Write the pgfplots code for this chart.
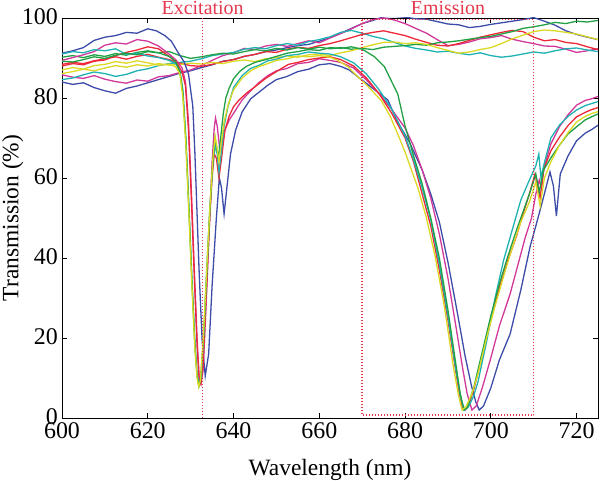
\documentclass[border=0pt]{standalone}
\usepackage{fontspec}
\setmainfont{Liberation Serif}
\usepackage{pgfplots}
\pgfplotsset{compat=1.18}
\definecolor{cB}{rgb}{0.24,0.30,0.66}
\definecolor{cM}{rgb}{0.82,0.22,0.60}
\definecolor{cC}{rgb}{0.12,0.70,0.70}
\definecolor{cR}{rgb}{0.93,0.16,0.22}
\definecolor{cG}{rgb}{0.13,0.63,0.27}
\definecolor{cY}{rgb}{0.86,0.85,0.14}
\definecolor{cDot}{rgb}{0.90,0.22,0.30}
\begin{document}
\begin{tikzpicture}
\begin{axis}[
  scale only axis, width=536bp, height=400bp,
  xmin=600, xmax=725, ymin=0, ymax=100,
  xtick={600,620,...,720}, ytick={0,20,...,100},
  tick align=inside, xtick pos=both, ytick pos=both,
  major tick length=5bp,
  axis line style={line width=0.9bp},
  every tick/.style={line width=0.9bp, black},
  /pgf/number format/assume math mode=true,
  tick label style={font=\fontsize{24}{26}\selectfont},
  xticklabel style={inner sep=1bp, yshift=-3bp},
  yticklabel style={inner sep=1bp, xshift=-3bp, yshift=1bp},
  label style={font=\fontsize{23.5}{26}\selectfont},
  xlabel={Wavelength (nm)}, ylabel={Transmission (\%)},
  xlabel style={at={(axis description cs:0.5,-0.1425)}, anchor=base},
  ylabel style={at={(axis description cs:-0.092,0.5)}, anchor=center, rotate=0},
  clip mode=individual,
  every axis plot/.append style={line width=1.3bp, no marks},
]
% ---- flat curves ----
\addplot[cB] coordinates {(600,84.0)(602.5,83.4)(605,83.8)(607.5,82.6)(610,81.8)(612.5,81.2)(615,82.4)(617.5,83.0)(620,83.8)(622.5,84.6)(625,85.4)(627.5,86.2)(630,86.8)(632.5,87.6)(635,88.3)(637.5,89.2)(640,89.6)(642.5,90.4)(645,90.9)(647.5,91.6)(650,92.0)(652.5,92.6)(655,93.1)(657.5,93.4)(660,94.2)(662.5,95.1)(665,96.2)(667.5,97.4)(670,98.6)(672.5,99.4)(675,100.3)(677.5,100.4)(680,100.2)(682.5,99.8)(685,99.7)(687.5,99.1)(690,98.5)(692.5,98.3)(695,97.6)(697.5,97.9)(700,98.4)(702.5,98.8)(705,99.2)(707.5,99.6)(710,100.1)(712.5,99.2)(715,98.2)(717.5,96.8)(720,95.9)(722.5,95.2)(725,94.6)};
\addplot[cM] coordinates {(600,85.8)(602.5,85.2)(605,84.9)(607.5,85.6)(610,84.7)(612.5,84.1)(615,83.7)(617.5,84.5)(620,84.2)(622.5,85.3)(625,85.6)(627.5,86.4)(630,87.0)(632.5,88.1)(635,89.4)(637.5,90.6)(640,91.3)(642.5,92.4)(645,92.1)(647.5,93.0)(650,93.4)(652.5,92.9)(655,93.6)(657.5,94.3)(660,93.8)(662.5,95.0)(665,96.1)(667.5,97.3)(670,98.6)(672.5,99.6)(675,100.0)(677.5,99.5)(680,98.6)(682.5,97.4)(685,96.2)(687.5,94.6)(690,93.1)(692.5,93.4)(695,94.0)(697.5,94.8)(700,95.1)(702.5,95.6)(705,94.7)(707.5,94.1)(710,93.6)(712.5,93.0)(715,92.9)(717.5,92.2)(720,91.4)(722.5,91.8)(725,92.3)};
\addplot[cC] coordinates {(600,84.6)(602.5,85.0)(605,85.8)(607.5,86.5)(610,86.1)(612.5,85.4)(615,85.9)(617.5,86.8)(620,87.3)(622.5,88.1)(625,88.6)(627.5,88.9)(630,89.2)(632.5,89.8)(635,90.6)(637.5,91.0)(640,91.4)(642.5,92.2)(645,92.6)(647.5,92.3)(650,93.1)(652.5,93.6)(655,93.2)(657.5,94.1)(660,94.6)(662.5,95.3)(665,96.4)(667.5,96.9)(670,96.2)(672.5,95.4)(675,94.8)(677.5,93.9)(680,93.0)(682.5,92.4)(685,92.0)(687.5,91.5)(690,91.7)(692.5,91.2)(695,90.8)(697.5,91.3)(700,90.6)(702.5,90.2)(705,90.5)(707.5,91.0)(710,91.5)(712.5,91.2)(715,91.8)(717.5,92.3)(720,92.5)(722.5,92.0)(725,91.6)};
\addplot[cR] coordinates {(600,88.4)(602.5,88.9)(605,88.6)(607.5,89.3)(610,89.8)(612.5,90.3)(615,89.7)(617.5,90.4)(620,90.9)(622.5,90.2)(625,89.6)(627.5,88.7)(630,88.1)(632.5,87.9)(635,88.4)(637.5,89.1)(640,89.6)(642.5,90.4)(645,90.9)(647.5,91.6)(650,91.4)(652.5,92.2)(655,92.7)(657.5,92.4)(660,93.1)(662.5,93.6)(665,94.3)(667.5,95.1)(670,95.9)(672.5,96.4)(675,96.8)(677.5,96.2)(680,95.6)(682.5,94.7)(685,93.9)(687.5,93.2)(690,93.0)(692.5,93.6)(695,94.4)(697.5,95.2)(700,95.8)(702.5,96.4)(705,96.9)(707.5,96.6)(710,95.2)(712.5,94.3)(715,94.6)(717.5,93.9)(720,93.6)(722.5,92.8)(725,92.1)};
\addplot[cG] coordinates {(600,90.2)(602.5,90.6)(605,90.1)(607.5,90.8)(610,90.4)(612.5,91.1)(615,90.7)(617.5,91.4)(620,91.8)(622.5,91.3)(625,91.6)(627.5,90.6)(630,89.9)(632.5,90.3)(635,90.8)(637.5,91.2)(640,91.0)(642.5,91.6)(645,92.1)(647.5,91.8)(650,92.4)(652.5,92.0)(655,92.6)(657.5,92.2)(660,92.7)(662.5,92.3)(665,92.6)(667.5,92.2)(670,92.4)(672.5,92.1)(675,92.7)(677.5,92.9)(680,93.1)(682.5,93.4)(685,93.2)(687.5,93.8)(690,94.0)(692.5,94.3)(695,94.7)(697.5,95.1)(700,95.4)(702.5,96.0)(705,96.6)(707.5,97.4)(710,97.8)(712.5,98.3)(715,98.9)(717.5,98.6)(720,99.2)(722.5,99.0)(725,99.4)};
\addplot[cY] coordinates {(600,86.1)(602.5,86.6)(605,87.2)(607.5,86.8)(610,87.5)(612.5,88.1)(615,87.7)(617.5,88.3)(620,88.0)(622.5,88.6)(625,88.2)(627.5,88.4)(630,88.7)(632.5,88.5)(635,88.9)(637.5,88.6)(640,89.2)(642.5,89.5)(645,89.1)(647.5,89.8)(650,90.1)(652.5,90.5)(655,90.2)(657.5,90.8)(660,91.0)(662.5,90.6)(665,91.3)(667.5,91.8)(670,92.6)(672.5,93.3)(675,93.9)(677.5,94.0)(680,93.6)(682.5,93.8)(685,93.4)(687.5,92.6)(690,91.9)(692.5,91.2)(695,91.5)(697.5,92.1)(700,92.6)(702.5,93.6)(705,94.8)(707.5,95.7)(710,96.6)(712.5,97.0)(715,96.8)(717.5,96.4)(720,96.0)(722.5,95.3)(725,94.6)};
% ---- notch-filter curves ----
\addplot[cB] coordinates {(600,91.2)(602.5,91.8)(605,92.6)(607.5,94.4)(610,95.2)(612.5,95.6)(615,96.4)(617.5,96.2)(620,97.3)(622,96.8)(624,95.6)(625.5,94.2)(627,91.5)(628.5,89.0)(629.5,86.0)(630.5,78)(631,66)(631.5,51)(632,36)(632.7,19)(633.4,10.5)(634.2,16)(635,33)(636,50)(636.7,60)(637.2,57.5)(637.8,51)(638.4,57)(639.3,66)(640.5,72)(642,76.5)(644,79.8)(646,81.5)(648,83.2)(650,84.6)(652.5,85.4)(655,86.6)(657.5,87.2)(660,88.3)(662.5,88.6)(665,87.9)(667,87.0)(669,85.3)(672,82.8)(676,79.5)(678,74.5)(681,69)(684,62)(686,56)(688,49)(690,39)(692,27.5)(694,15.5)(695.5,8)(696.5,4)(697.3,2)(698.3,3)(700,7.5)(702,14.5)(704.5,21)(707,32)(709.2,43)(710.5,48)(712,54)(713.8,61.5)(714.6,58)(715.3,50.5)(716.2,61)(718,65.5)(720,69.3)(722,71.2)(723.5,72.1)(725,73.2)};
\addplot[cM] coordinates {(600,89.4)(602.5,90.1)(605,90.8)(607.5,91.6)(610,93.2)(612.5,93.8)(615,93.5)(617.5,94.6)(620,94.2)(622.5,93.0)(624.5,91.4)(626.5,89.6)(628,87.5)(628.8,84)(629.5,74)(630.2,56)(630.9,36)(631.5,20)(632,10)(632.4,8.5)(632.9,12)(633.6,28)(634.3,46)(635,64)(635.5,72.5)(635.8,75)(636.2,73)(636.8,67)(637.3,68.5)(638,72)(639,74.5)(640.5,77)(642,79.5)(644,81.8)(646,83.9)(648,85.6)(650,86.8)(652.5,87.4)(655,88.6)(657.5,88.9)(660,89.8)(662.5,89.4)(665,88.9)(668,87.5)(671,84.5)(674,81)(677,77)(680,72.5)(682,68)(684,62)(686,55)(688,46)(690,35)(692,22)(693.5,12)(694.5,6)(695.6,2)(696.6,3)(698,7.5)(700,15)(702,23)(704.5,31)(706,37)(708,45)(709.5,50)(710.5,56)(711.3,59.5)(711.8,57.5)(712.5,63)(714,68.5)(716,72.8)(718,75.8)(720,78.2)(722,79.4)(723.5,79.8)(725,80.4)};
\addplot[cR] coordinates {(600,88.0)(602.5,88.6)(605,88.3)(607.5,89.2)(610,89.5)(612.5,90.6)(615,91.4)(617.5,92.0)(620,92.8)(622.5,92.3)(624.5,90.8)(626.5,89.2)(628,86.5)(628.8,83)(629.5,72)(630.2,54)(630.9,34)(631.5,18)(632,9.5)(632.4,8.5)(632.9,13)(633.6,30)(634.3,47)(635,60)(635.5,66)(636,65)(636.6,60)(637.1,64)(638,72)(639,75.5)(640,77.8)(641.3,79.5)(643,81.2)(645,82.8)(647.5,84.9)(650,86.6)(652.8,88.4)(655,88.9)(657.5,89.6)(660,90.0)(662.5,90.3)(665,89.6)(668,88.0)(671,85.0)(674,81.0)(677,76)(680,70)(682,64)(684,56)(686,48)(688,37)(690,24.5)(691.5,14)(692.6,6.5)(693.4,2.5)(694,2)(694.8,3)(696,7)(698,15.5)(700,24.5)(702,32.5)(704,39.5)(706,45.5)(707.5,51)(709,56)(710.3,61)(711,57.5)(711.5,55)(712.3,62)(714,66.8)(716,70.2)(718,73.1)(720,75.3)(722,76.4)(723.5,77.1)(725,77.6)};
\addplot[cC] coordinates {(600,91.0)(602.5,91.6)(605,91.3)(607.5,92.1)(610,91.8)(612.5,92.3)(615,90.9)(617.5,91.2)(620,90.5)(622.5,90.1)(625,89.4)(626.5,88.6)(627.5,86.8)(628.2,82)(628.9,70)(629.6,53)(630.3,35)(631,19)(631.5,11)(632,8.2)(632.5,10.5)(633.1,22)(633.8,38)(634.5,53)(635.2,64)(635.7,68)(636.2,66)(636.6,61.5)(637.1,66)(637.8,73)(638.7,77.8)(640,82.6)(642,85.6)(644,87.4)(646,88.2)(648,89.3)(650,89.7)(652.5,90.6)(655,90.9)(657.5,91.5)(660,91.2)(662.5,91.0)(665,90.3)(668,88.8)(671,86.0)(674,82.0)(677,77.0)(680,70.5)(682,64.5)(684,57.5)(686,49.5)(688,38.5)(690,25.5)(691.8,12.5)(693,5)(693.9,2)(694.8,2.8)(696,5.5)(697,9)(699,19)(701,30)(703,39.5)(705,47)(707,54.5)(709,59.5)(710.5,63)(711.2,66)(711.7,60)(712.3,63)(714,70)(716,73.2)(718,75.4)(720,77.0)(722,78.1)(723.5,78.6)(725,79.1)};
\addplot[cG] coordinates {(600,89.2)(602.5,89.0)(605,89.6)(607.5,90.3)(610,89.9)(612.5,90.7)(615,91.2)(617.5,90.8)(620,91.6)(622.5,91.3)(625,90.4)(626.5,89.1)(627.5,86.5)(628.2,81)(628.9,69)(629.6,52)(630.3,34)(631,18)(631.5,10.5)(631.9,8)(632.3,9.5)(633,20)(633.8,37)(634.5,52)(635.2,64.5)(635.7,70)(636.1,67.5)(636.5,65)(637,70)(637.6,76)(638.2,80)(639,82.5)(640,84.8)(641.5,86.7)(643,87.9)(645,88.9)(647.5,89.6)(650,90.4)(652.5,91.2)(655,91.6)(657.5,92.1)(660,91.9)(662.5,92.6)(665,92.4)(667.5,92.8)(670,92.2)(672.9,90.3)(675.2,87.8)(678.3,81.0)(680,73)(682,65.5)(684,58.5)(686,50)(688,40)(690,27)(691.5,16)(692.8,6.5)(693.7,2)(694.5,2.6)(696,7.5)(698,16.5)(700,25.5)(702,33.5)(704,40.5)(706,47)(707.5,51.5)(709,56)(710.5,61)(711.3,56.5)(712.3,62)(714,65)(716,68.2)(718,71.0)(720,72.8)(722,74.5)(723.5,75.3)(725,76.0)};
\addplot[cY] coordinates {(600,87.0)(602.5,87.6)(605,87.2)(607.5,88.1)(610,88.4)(612.5,89.1)(615,88.7)(617.5,89.3)(620,88.8)(622.5,88.2)(625,88.5)(626.5,87.8)(627.5,86.0)(628.2,80)(628.9,68)(629.6,51)(630.3,33)(631,17)(631.5,10)(631.9,7.8)(632.3,9.5)(633,21)(633.8,38)(634.5,53)(635.2,65)(635.7,70.5)(636.1,68)(636.6,64)(637.1,68.5)(637.8,74)(638.8,78.5)(640,82)(642,85)(644,86.8)(646,87.9)(648,88.6)(650,89.4)(652.5,89.8)(655,90.5)(657.5,90.3)(660,90.6)(662.5,90.2)(664.5,89.3)(666.7,87.8)(668.5,85.8)(670.6,83.7)(672.5,81.6)(674.5,79.3)(676.5,75.5)(678.3,71)(680,66.5)(681.5,62)(683,57.5)(685,50)(687,40.5)(689,29)(690,22)(691.3,12.5)(692.5,5.5)(693.3,2)(694.2,2.8)(695.5,5.8)(697,11)(699,20)(701,28)(703,35.5)(705,42.5)(707,49)(709,54)(710.5,59)(711.5,53)(712.5,60)(714,64)(716,68.2)(718,71.3)(720,74.0)(722,75.4)(723.5,76.1)(725,76.6)};
% ---- marked regions ----
\addplot[cDot, line width=1.5bp, dash pattern=on 1.5bp off 1.5bp] coordinates {(632.8,0)(632.8,100)};
\addplot[cDot, line width=1.5bp, dash pattern=on 1.5bp off 1.5bp] coordinates {(670,99.6)(670,0.7)(710,0.7)(710,99.6)(670,99.6)};
\node[anchor=base, text=cDot, font=\fontsize{20}{22}\selectfont, yshift=3bp] at (axis cs:632.8,100) {Excitation};
\node[anchor=base, text=cDot, font=\fontsize{20}{22}\selectfont, yshift=3bp] at (axis cs:690,100) {Emission};
\end{axis}
\pgfresetboundingbox
\path[use as bounding box] (-62bp,-63bp) rectangle (538bp,418bp);
\end{tikzpicture}
\end{document}
